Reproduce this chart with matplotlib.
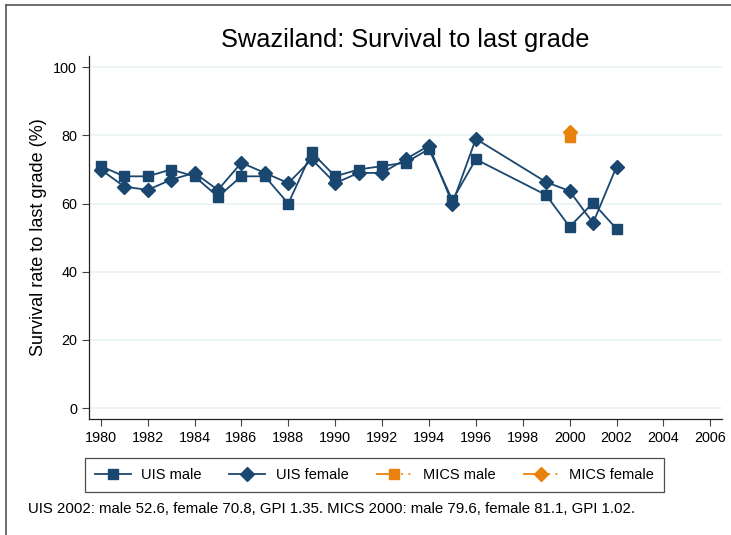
import numpy as np
import matplotlib.pyplot as plt
from matplotlib.lines import Line2D

plt.rcParams['font.family'] = ['Liberation Sans', 'DejaVu Sans']

# UIS series
years = [1980, 1981, 1982, 1983, 1984, 1985, 1986, 1987, 1988, 1989, 1990,
         1991, 1992, 1993, 1994, 1995, 1996, 1999, 2000, 2001, 2002]
uis_male = [71, 68, 68, 70, 68, 62, 68, 68, 60, 75, 68,
            70, 71, 72, 76, 61, 73, 62.5, 53.2, 60.2, 52.6]
uis_female = [70, 65, 64, 67, 69, 64, 72, 69, 66, 73, 66,
              69, 69, 73, 77, 60, 79, 66.3, 63.7, 54.3, 70.8]

# MICS survey
mics_years = [2000]
mics_male = [79.6]
mics_female = [81.1]

xticks = list(range(1980, 2007, 2))
yticks = [0, 20, 40, 60, 80, 100]

navy = '#1a476f'
orange = '#e8820c'
mics_ls = (0, (11, 3, 1, 3, 1, 3))

fig = plt.figure(figsize=(7.31, 5.35), dpi=100)
ax = fig.add_axes([89/731, 1 - 419/535, (722 - 89)/731, (419 - 56)/535])

ax.plot(years, uis_male, color=navy, lw=1.3, marker='s', ms=7.5, label='UIS male')
ax.plot(years, uis_female, color=navy, lw=1.3, marker='D', ms=7, label='UIS female')
ax.plot(mics_years, mics_male, color=orange, lw=1.3, ls=mics_ls, marker='s', ms=7.5,
        label='MICS male')
ax.plot(mics_years, mics_female, color=orange, lw=1.3, ls=mics_ls, marker='D', ms=7,
        label='MICS female')

ax.set_xlim(1979.5, 2006.5)
ax.set_ylim(-3.2, 103.3)
ax.set_xticks(xticks)
ax.set_yticks(yticks)
ax.tick_params(labelsize=10.4, direction='out', length=5, width=0.8, color='#444444')
ax.yaxis.grid(True, color='#eaf2f3', lw=1.2)
ax.set_axisbelow(True)
for s in ['top', 'right']:
    ax.spines[s].set_visible(False)
for s in ['left', 'bottom']:
    ax.spines[s].set_color('#222222')
    ax.spines[s].set_linewidth(0.9)

ax.set_ylabel('Survival rate to last grade (%)', fontsize=13)
ax.yaxis.set_label_coords((47 - 89)/633, (419 - 237)/363)
fig.text(405/731, 1 - 40/535, 'Swaziland: Survival to last grade', fontsize=18.3,
         ha='center', va='center')

leg = fig.legend(*ax.get_legend_handles_labels(), ncol=4, loc='center',
                 bbox_to_anchor=(374.5/731, 1 - 475/535), fontsize=10.5,
                 frameon=True, fancybox=False, edgecolor='#222222',
                 handlelength=2.45, handletextpad=0.73, columnspacing=1.9,
                 borderpad=0.7)
leg.get_frame().set_linewidth(0.9)

fig.text(28/731, 1 - 509/535,
         'UIS 2002: male 52.6, female 70.8, GPI 1.35. MICS 2000: male 79.6, female 81.1, GPI 1.02.',
         fontsize=10.8, ha='left', va='center')

# outer graph border
fig.add_artist(Line2D([6/731, 6/731], [0, 1 - 5/535], color='#555555', lw=1.2))
fig.add_artist(Line2D([6/731, 1], [1 - 5/535, 1 - 5/535], color='#555555', lw=1.2))

fig.savefig('out.png', dpi=100)
